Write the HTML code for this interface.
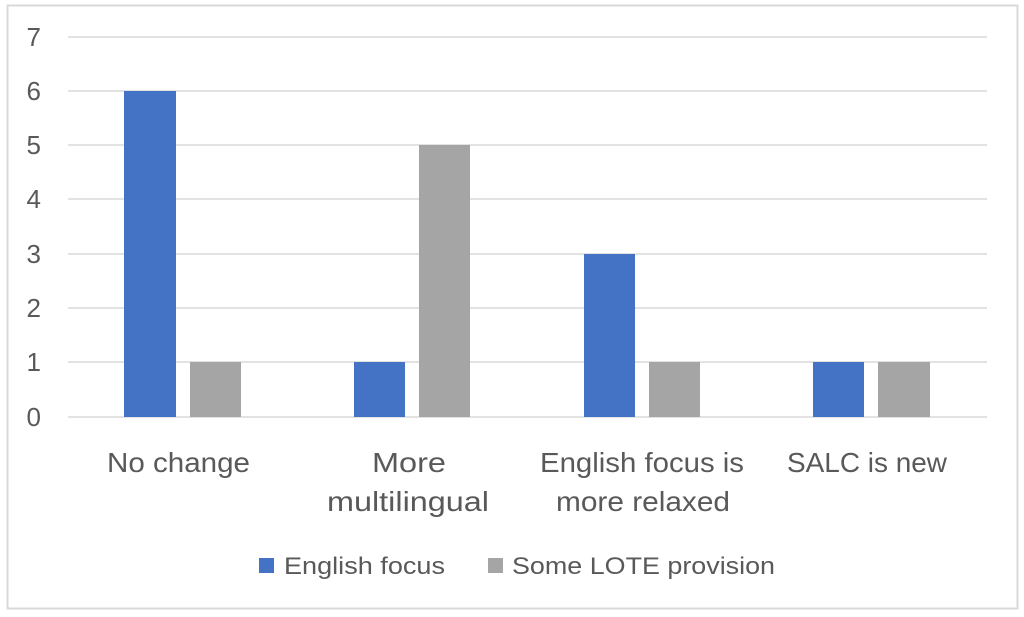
<!DOCTYPE html>
<html><head><meta charset="utf-8"><style>
html,body{margin:0;padding:0;background:#fff;}
svg{display:block;font-family:"Liberation Sans",sans-serif;}
</style></head><body>
<svg width="1024" height="617" viewBox="0 0 1024 617" xmlns="http://www.w3.org/2000/svg">
<rect x="7.5" y="5.5" width="1010" height="603" fill="#fff" stroke="#d9d9d9" stroke-width="2"/>
<g stroke="#d9d9d9" stroke-width="1.5">
<line x1="68" x2="987" y1="37" y2="37"/>
<line x1="68" x2="987" y1="91" y2="91"/>
<line x1="68" x2="987" y1="145" y2="145"/>
<line x1="68" x2="987" y1="199" y2="199"/>
<line x1="68" x2="987" y1="254" y2="254"/>
<line x1="68" x2="987" y1="308" y2="308"/>
<line x1="68" x2="987" y1="362" y2="362"/>
<line x1="68" x2="987" y1="417" y2="417"/>
</g>
<g fill="#4472c4">
<rect x="124" y="91" width="52" height="326"/>
<rect x="354" y="362" width="51" height="55"/>
<rect x="584" y="254" width="51" height="163"/>
<rect x="813" y="362" width="51" height="55"/>
</g>
<g fill="#a5a5a5">
<rect x="190" y="362" width="51" height="55"/>
<rect x="419" y="145" width="51" height="272"/>
<rect x="649" y="362" width="51" height="55"/>
<rect x="878" y="362" width="52" height="55"/>
</g>
<g fill="#595959" font-size="26" text-anchor="end">
<text x="41" y="46">7</text>
<text x="41" y="100">6</text>
<text x="41" y="154">5</text>
<text x="41" y="208">4</text>
<text x="41" y="263">3</text>
<text x="41" y="317">2</text>
<text x="41" y="371">1</text>
<text x="41" y="426">0</text>
</g>
<g fill="#595959" font-size="28" lengthAdjust="spacingAndGlyphs">
<text x="107" y="472" textLength="143" lengthAdjust="spacingAndGlyphs">No change</text>
<text x="372" y="472" textLength="74" lengthAdjust="spacingAndGlyphs">More</text>
<text x="327" y="511" textLength="162" lengthAdjust="spacingAndGlyphs">multilingual</text>
<text x="540" y="472" textLength="204" lengthAdjust="spacingAndGlyphs">English focus is</text>
<text x="556" y="511" textLength="174" lengthAdjust="spacingAndGlyphs">more relaxed</text>
<text x="787" y="472" textLength="160" lengthAdjust="spacingAndGlyphs">SALC is new</text>
</g>
<rect x="259" y="558" width="15" height="15" fill="#4472c4"/>
<rect x="488" y="558" width="15" height="15" fill="#a5a5a5"/>
<g fill="#595959" font-size="24">
<text x="284" y="574" textLength="161" lengthAdjust="spacingAndGlyphs">English focus</text>
<text x="512" y="574" textLength="263" lengthAdjust="spacingAndGlyphs">Some LOTE provision</text>
</g>
</svg>
</body></html>
